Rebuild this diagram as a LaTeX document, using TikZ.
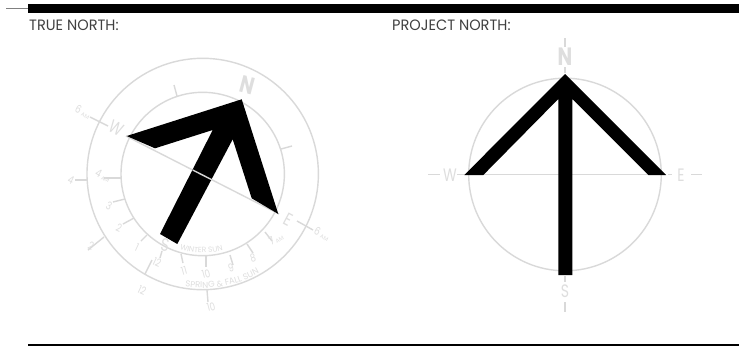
\documentclass[tikz,border=0pt]{standalone}
\usepackage{fontspec}
\usetikzlibrary{decorations.text}
\setmainfont{Poppins}
\definecolor{lg}{gray}{0.85}
\definecolor{lt}{gray}{0.87}
\newcommand{\nar}[1]{\scalebox{0.78}[1]{#1}}
\newcommand{\ampm}[2]{\scalebox{0.8}[1]{#1}\hspace{1.5pt}{\fontsize{5.5}{6}\selectfont #2}}
\tikzset{
 ring/.style={draw=lg,line width=1.4pt},
 tick/.style={draw=lg,line width=1.4pt},
 arrowfill/.style={fill=black,draw=none},
 title/.style={anchor=west,inner sep=0pt,text=black!75,font=\fontsize{15}{16}\selectfont},
 big/.style={inner sep=0pt,text=lt,font=\fontsize{18}{19}\selectfont},
 sm/.style={inner sep=0pt,text=lt,font=\fontsize{11}{12}\selectfont},
 arctext/.style={decorate,decoration={text along path,text align=center,text={#1}}},
}
\begin{document}
\begin{tikzpicture}[x=1pt,y=-1pt]
\useasboundingbox (0,0) rectangle (749,346);
\fill[white] (0,0) rectangle (749,346);
\fill[black] (28,4.3) rectangle (739,12.8);
\draw[black!50,line width=0.7pt] (6,8.5) -- (28,8.5);
\fill[black] (28,344) rectangle (739,346);
\node[title] (t1) at (29,25.5) {\scalebox{0.97}[1]{TRUE NORTH:}};
\node[title] (t2) at (392,25.5) {\scalebox{0.97}[1]{PROJECT NORTH:}};
% left compass
\coordinate (c) at (202.7,174);
\draw[ring] (c) circle (115.7);
\draw[ring] (c) circle (81.7);
\draw[tick] (126,136) -- (279,214);
\draw[tick] (90,117) -- (108,126);
\draw[tick] (297,221) -- (313,230);
\draw[tick] (174,85) -- (177,96);
\draw[tick] (281,149) -- (292,146);
\draw[tick] (75,180) -- (87,180);
\draw[tick] (104,178) -- (121,178);
\draw[tick] (113,202) -- (125,199);
\draw[tick] (123,224) -- (134,218);
\draw[tick] (141,241) -- (147,235);
\draw[tick] (88,250) -- (104,237);
\draw[tick] (145,274) -- (152,260) (160,258) -- (162,251);
\draw[tick] (183,263) -- (181,254);
\draw[tick] (206,256) -- (206,267);
\draw[tick] (230,255) -- (233,265);
\draw[tick] (247,244) -- (253,253);
\draw[tick] (265,232) -- (272,241);
\draw[tick] (207,290) -- (208,302);
\fill[arrowfill] (241.7,99.3) -- (126.7,136) -- (155,148.3) -- (212.7,130) -- (160,234) -- (177.3,244) -- (232.7,139.3) -- (251.7,198.3) -- (278.3,214) -- cycle;
\draw[tick] (192.7,170) -- (212.7,180.2);
\node[big,rotate=-15,font=\fontsize{24}{25}\selectfont\bfseries] (lN) at (247,85) {\nar{N}};
\node[big,rotate=-28] (lW) at (116,128) {\nar{W}};
\node[big,rotate=-28] (lE) at (288,220) {\nar{E}};
\node[big,rotate=-10] (lS) at (165,245) {\nar{S}};
\node[sm,rotate=-28] (a1) at (83,112) {\ampm{6}{AM}};
\node[sm,rotate=-28] (a2) at (322,234) {\ampm{6}{AM}};
\node[sm,rotate=-28] (a3) at (103,176) {\ampm{4}{AM}};
\node[sm,rotate=-25] (a4) at (109,206) {\nar{3}};
\node[sm,rotate=-25] (a5) at (119,228) {\nar{2}};
\node[sm,rotate=-25] (a6) at (137,247) {\nar{1}};
\node[sm,rotate=-25] (a7) at (71,180) {\nar{4}};
\node[sm,rotate=-25] (a8) at (91,246) {\nar{2}};
\node[sm,rotate=-25] (a9) at (157,262) {\nar{12}};
\node[sm,rotate=-25] (a10) at (142,290) {\nar{12}};
\node[sm,rotate=15] (a11) at (184,271) {\nar{11}};
\node[sm,rotate=15] (a12) at (206,274) {\nar{10}};
\node[sm,rotate=15] (a13) at (231,268) {\nar{9}};
\node[sm,rotate=15] (a14) at (253,258) {\nar{8}};
\node[sm,rotate=28] (a15) at (276,239) {\ampm{7}{AM}};
\node[sm,rotate=15] (a16) at (211,307) {\nar{10}};
\path[arctext={|\fontsize{7.5}{8}\selectfont\color{lt}|WINTER SUN}]
  (173.1,247.2) .. controls (191.2,254.5) and (211.4,254.9) .. (229.7,248.2);
\path[arctext={|\fontsize{8.5}{9}\selectfont\color{lt}|SPRING {\&} FALL SUN}]
  (175.1,284.6) .. controls (207.1,292.6) and (241.1,286.3) .. (268.1,267.4);
% right compass
\coordinate (d) at (565,174.5);
\draw[ring] (d) circle (96.3);
\draw[tick] (464,174.5) -- (666,174.5);
\draw[tick] (428,174.5) -- (440,174.5) (457,174.5) -- (464,174.5);
\draw[tick] (668,174.5) -- (672,174.5) (691,174.5) -- (702,174.5);
\draw[tick] (565,38) -- (565,47) (565,67) -- (565,73);
\draw[tick] (565,276) -- (565,282) (565,302) -- (565,312);
\fill[arrowfill] (565,74) -- (464.3,175) -- (483.3,175) -- (558.3,99) -- (558.3,275) -- (572.3,275) -- (572.3,99) -- (648.3,175) -- (666,175) -- cycle;
\node[big,font=\fontsize{25}{26}\selectfont\bfseries] (rN) at (565,56.5) {\nar{N}};
\node[big] (rW) at (450,175.5) {\nar{W}};
\node[big] (rE) at (681,175.5) {\nar{E}};
\node[big] (rS) at (565,291.5) {\nar{S}};
\end{tikzpicture}
\end{document}
